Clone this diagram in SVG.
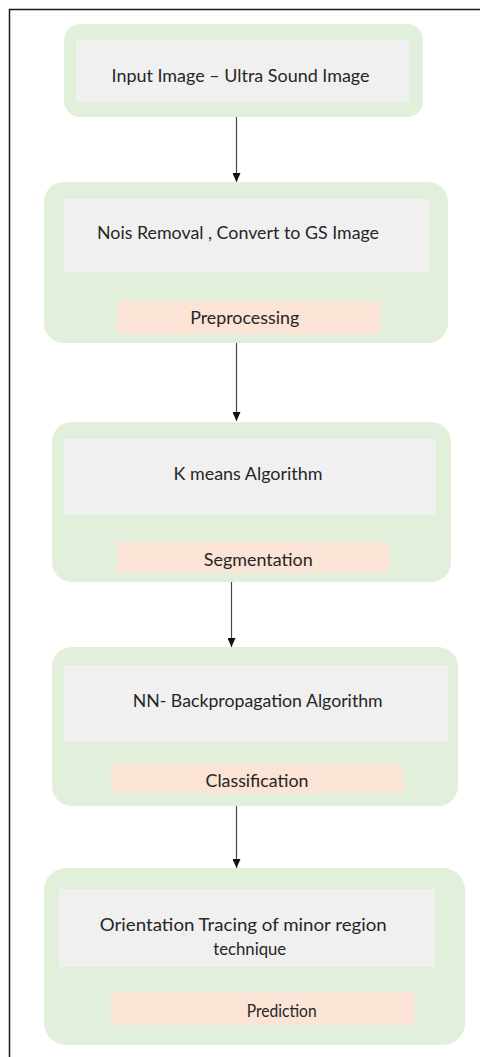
<svg xmlns="http://www.w3.org/2000/svg" width="480" height="1057" viewBox="0 0 480 1057">
<style>
.outer{fill:#e2efda}
.inner{fill:#f0f0f0}
.tag{fill:#fbe3d6}
.t{font-family:Lato,"Liberation Sans",sans-serif;font-size:17px;fill:#262626;text-anchor:middle}
.con{stroke:#4a4a4a;stroke-width:1.2;fill:none}
.frame{stroke:#1a1a1a;stroke-width:1.5;fill:none}
</style>
<defs>
<marker id="ah" markerUnits="userSpaceOnUse" markerWidth="10" markerHeight="8" refX="9" refY="4" orient="auto">
<path d="M0,0 L9,4 L0,8 Z" fill="#111"/>
</marker>
</defs>
<rect width="480" height="1057" fill="#fff"/>
<path class="frame" d="M9.5,1057 V9.5 H480"/>

<g id="connectors">
<line class="con" x1="236.5" y1="117" x2="236.5" y2="182" marker-end="url(#ah)"/>
<line class="con" x1="236.5" y1="343" x2="236.5" y2="421" marker-end="url(#ah)"/>
<line class="con" x1="231.5" y1="582" x2="231.5" y2="647" marker-end="url(#ah)"/>
<line class="con" x1="236.5" y1="806" x2="236.5" y2="868" marker-end="url(#ah)"/>
</g>

<g id="node-input">
<rect class="outer" x="64" y="24" width="359" height="93" rx="16"/>
<rect class="inner" x="76" y="40" width="333" height="62"/>
<text class="t" x="240.5" y="82" textLength="258" lengthAdjust="spacingAndGlyphs">Input Image – Ultra Sound Image</text>
</g>

<g id="node-preprocessing">
<rect class="outer" x="44" y="182" width="404" height="161" rx="20"/>
<rect class="inner" x="64" y="199" width="365" height="73"/>
<text class="t" x="238" y="239" textLength="282" lengthAdjust="spacingAndGlyphs">Nois Removal , Convert to GS Image</text>
<rect class="tag" x="117" y="301" width="264" height="33"/>
<text class="t" x="244.7" y="324" textLength="109" lengthAdjust="spacingAndGlyphs">Preprocessing</text>
</g>

<g id="node-segmentation">
<rect class="outer" x="52" y="422" width="399" height="160" rx="20"/>
<rect class="inner" x="64" y="439" width="372" height="76"/>
<text class="t" x="248" y="480" textLength="149" lengthAdjust="spacingAndGlyphs">K means Algorithm</text>
<rect class="tag" x="117" y="542" width="272" height="31"/>
<text class="t" x="258.3" y="566" textLength="109" lengthAdjust="spacingAndGlyphs">Segmentation</text>
</g>

<g id="node-classification">
<rect class="outer" x="52" y="647" width="406" height="159" rx="20"/>
<rect class="inner" x="64" y="665" width="384" height="76"/>
<text class="t" x="257.7" y="706.5" textLength="250" lengthAdjust="spacingAndGlyphs">NN- Backpropagation Algorithm</text>
<rect class="tag" x="111" y="764" width="292" height="29"/>
<text class="t" x="257" y="787" textLength="103" lengthAdjust="spacingAndGlyphs">Classification</text>
</g>

<g id="node-prediction">
<rect class="outer" x="44" y="868" width="421" height="177" rx="22"/>
<rect class="inner" x="59" y="889" width="376" height="78"/>
<text class="t" x="243.3" y="930.5" textLength="287" lengthAdjust="spacingAndGlyphs">Orientation Tracing of minor region</text>
<text class="t" x="249.7" y="955" textLength="73" lengthAdjust="spacingAndGlyphs">technique</text>
<rect class="tag" x="111" y="992" width="303" height="33"/>
<text class="t" x="281.7" y="1016.5" textLength="70" lengthAdjust="spacingAndGlyphs">Prediction</text>
</g>
</svg>
